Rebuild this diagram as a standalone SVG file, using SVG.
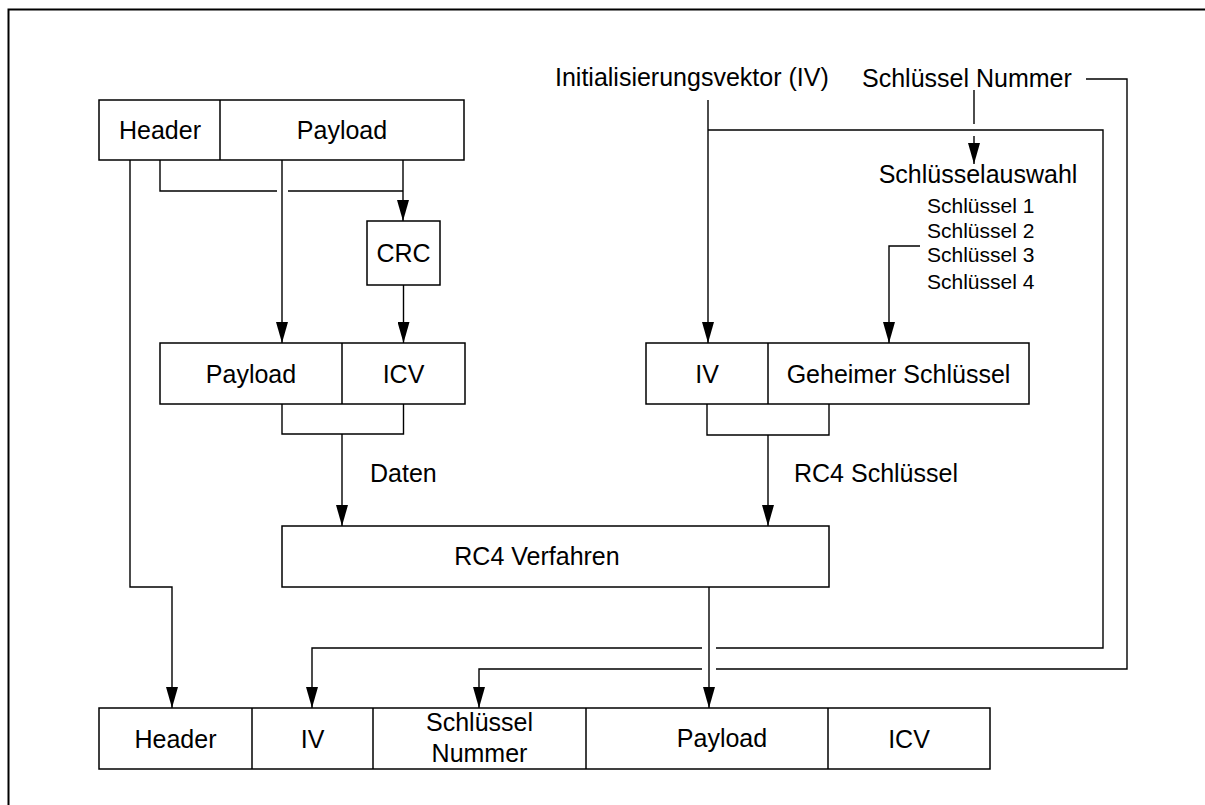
<svg xmlns="http://www.w3.org/2000/svg" width="1205" height="805" viewBox="0 0 1205 805">
  <style>
    .box { fill: #ffffff; stroke: #000000; stroke-width: 1.5; }
    .div { fill: none; stroke: #000000; stroke-width: 1.5; }
    .wire { fill: none; stroke: #000000; stroke-width: 1.4; }
    .arrow { marker-end: url(#head); }
    text { font-family: "Liberation Sans", Arial, Helvetica, sans-serif; font-size: 25px; fill: #000000; }
    .mid { text-anchor: middle; }
    .small { font-size: 21px; }
  </style>
  <defs>
    <marker id="head" viewBox="0 0 21 12" refX="21" refY="6" markerWidth="21" markerHeight="12" markerUnits="userSpaceOnUse" orient="auto">
      <path d="M0,0 L21,6 L0,12 z" fill="#000000"/>
    </marker>
  </defs>

  <rect width="1205" height="805" fill="#ffffff"/>
  <!-- outer frame (open to the right and bottom) -->
  <rect x="8.5" y="9.5" width="1300" height="900" fill="none" stroke="#000000" stroke-width="2"/>

  <!-- connectors -->
  <g id="connectors">
    <!-- header into bottom frame -->
    <path class="wire arrow" d="M130,160 V587 H172 V708"/>
    <!-- header + payload into CRC -->
    <path class="wire" d="M160,160 V191 H277"/>
    <path class="wire" d="M288,191 H403"/>
    <path class="wire arrow" d="M403,160 V221"/>
    <!-- payload copy -->
    <path class="wire arrow" d="M282,160 V343"/>
    <!-- CRC to ICV -->
    <path class="wire arrow" d="M403.5,285 V343"/>
    <!-- payload + ICV merged as data -->
    <path class="wire" d="M282,404 V434 H403.5 V404"/>
    <path class="wire arrow" d="M342,434 V526"/>
    <!-- IV input -->
    <path class="wire arrow" d="M708,100 V343"/>
    <path class="wire" d="M708,130 H1103 V648 H716"/>
    <path class="wire arrow" d="M702,648 H312 V708"/>
    <!-- key number -->
    <path class="wire" d="M1086,79 H1127 V669 H716"/>
    <path class="wire arrow" d="M702,669 H479 V708"/>
    <path class="wire" d="M974,90 V124"/>
    <path class="wire arrow" d="M974,136 V164"/>
    <!-- selected key into secret key -->
    <path class="wire arrow" d="M920,246 H889 V343"/>
    <!-- IV + secret key merged as RC4 key -->
    <path class="wire" d="M707,404 V435 H829 V404"/>
    <path class="wire arrow" d="M768,435 V526"/>
    <!-- cipher output -->
    <path class="wire arrow" d="M709,587 V708"/>
  </g>

  <!-- plain frame -->
  <g id="frame-in">
    <rect class="box" x="99" y="100" width="365" height="60"/>
    <line class="div" x1="220" y1="100" x2="220" y2="160"/>
    <text class="mid" x="160" y="139">Header</text>
    <text class="mid" x="342" y="139">Payload</text>
  </g>

  <g id="crc">
    <rect class="box" x="367" y="221" width="73" height="64"/>
    <text class="mid" x="403.5" y="262">CRC</text>
  </g>

  <g id="payload-icv">
    <rect class="box" x="160" y="343" width="305" height="61"/>
    <line class="div" x1="342" y1="343" x2="342" y2="404"/>
    <text class="mid" x="251" y="382.5">Payload</text>
    <text class="mid" x="403.5" y="382.5">ICV</text>
  </g>

  <g id="iv-key">
    <rect class="box" x="646" y="343" width="383" height="61"/>
    <line class="div" x1="768" y1="343" x2="768" y2="404"/>
    <text class="mid" x="707" y="382.5">IV</text>
    <text class="mid" x="898.5" y="382.5">Geheimer Schlüssel</text>
  </g>

  <g id="rc4">
    <rect class="box" x="282" y="526" width="547" height="61"/>
    <text class="mid" x="537" y="565">RC4 Verfahren</text>
  </g>

  <g id="labels">
    <text x="370" y="482">Daten</text>
    <text x="794" y="482">RC4 Schlüssel</text>
    <text x="555" y="86">Initialisierungsvektor (IV)</text>
    <text x="862" y="87">Schlüssel Nummer</text>
  </g>

  <g id="key-select">
    <text class="mid" x="978" y="183">Schlüsselauswahl</text>
    <text class="small" x="927" y="213">Schlüssel 1</text>
    <text class="small" x="927" y="238">Schlüssel 2</text>
    <text class="small" x="927" y="262">Schlüssel 3</text>
    <text class="small" x="927" y="289">Schlüssel 4</text>
  </g>

  <!-- encrypted frame -->
  <g id="frame-out">
    <rect class="box" x="99" y="708" width="891" height="61"/>
    <line class="div" x1="252" y1="708" x2="252" y2="769"/>
    <line class="div" x1="373" y1="708" x2="373" y2="769"/>
    <line class="div" x1="586" y1="708" x2="586" y2="769"/>
    <line class="div" x1="828" y1="708" x2="828" y2="769"/>
    <text class="mid" x="175.5" y="748">Header</text>
    <text class="mid" x="312.5" y="748">IV</text>
    <text class="mid" x="479.5" y="731">Schlüssel</text>
    <text class="mid" x="479.5" y="762">Nummer</text>
    <text class="mid" x="722" y="747">Payload</text>
    <text class="mid" x="909" y="748">ICV</text>
  </g>
</svg>
